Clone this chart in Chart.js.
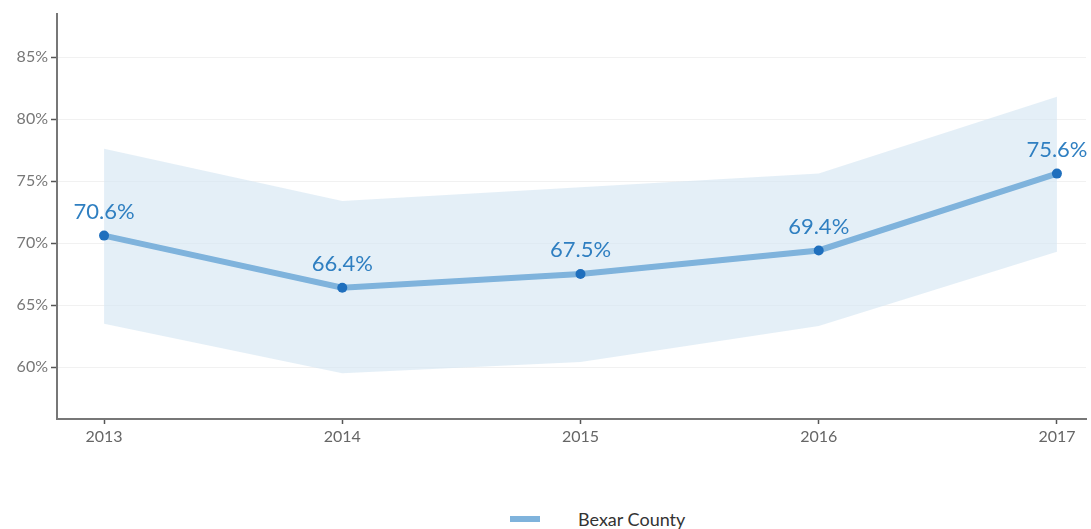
<!DOCTYPE html>
<html>
<head>
<meta charset="utf-8">
<script src="https://cdn.jsdelivr.net/npm/chart.js@4.4.1/dist/chart.umd.min.js"></script>
<style>
    html, body { margin: 0; padding: 0; background: #ffffff; }
    #wrap { position: relative; width: 1091px; height: 529px; }
    #grafico { position: absolute; left: 0; top: 0; }
    #legenda {
        position: absolute; left: 510px; top: 507px;
        font-family: Lato, 'Open Sans', sans-serif; font-size: 18px; color: #333;
        display: flex; align-items: center; height: 24px;
    }
    #legenda .amostra { width: 30px; height: 6px; background: #7fb3dc; margin-right: 38px; }
</style>
</head>
<body>
<div id="wrap">
    <canvas id="grafico" width="1091" height="450"></canvas>
    <div id="legenda"><span class="amostra"></span><span>Bexar County</span></div>
</div>
<script>
// --- Dados ---
const anos = [2013, 2014, 2015, 2016, 2017];
const valores = [70.6, 66.4, 67.5, 69.4, 75.6];
const limiteSuperior = [77.6, 73.4, 74.5, 75.6, 81.8];
const limiteInferior = [63.5, 59.5, 60.4, 63.3, 69.3];
const ticksY = [60, 65, 70, 75, 80, 85];

const pares = (arr) => anos.map((ano, i) => ({ x: ano, y: arr[i] }));

// rótulos de valor acima dos pontos
const rotulosPlugin = {
    id: 'rotulos',
    afterDatasetsDraw(chart) {
        const meta = chart.getDatasetMeta(2);
        const ctx = chart.ctx;
        ctx.save();
        ctx.font = '22px Lato, "Open Sans", sans-serif';
        ctx.fillStyle = '#2f7fc1';
        ctx.textAlign = 'center';
        ctx.textBaseline = 'middle';
        meta.data.forEach((pt, i) => {
            ctx.fillText(valores[i].toFixed(1) + '%', pt.x, pt.y - 24);
        });
        ctx.restore();
    }
};

const fonte = { family: 'Lato, "Open Sans", sans-serif', size: 16 };

const ctx = document.getElementById('grafico').getContext('2d');
new Chart(ctx, {
    type: 'line',
    data: {
        datasets: [
            {
                label: 'superior',
                data: pares(limiteSuperior),
                borderWidth: 0,
                pointRadius: 0,
                backgroundColor: 'rgba(214, 230, 243, 0.65)',
                fill: '+1',
                order: 2
            },
            {
                label: 'inferior',
                data: pares(limiteInferior),
                borderWidth: 0,
                pointRadius: 0,
                fill: false,
                order: 1
            },
            {
                label: 'Bexar County',
                data: pares(valores),
                borderColor: '#7fb3dc',
                borderWidth: 6,
                pointRadius: 5,
                pointBackgroundColor: '#1f6fbd',
                pointBorderWidth: 0,
                fill: false,
                clip: false,
                order: 0
            }
        ]
    },
    options: {
        responsive: false,
        animation: false,
        layout: { padding: { top: 14, right: 0, left: 0, bottom: 0 } },
        plugins: {
            legend: { display: false },
            tooltip: { enabled: false }
        },
        scales: {
            x: {
                type: 'linear',
                min: 2012.8025,
                max: 2017.122,
                afterBuildTicks: (scale) => { scale.ticks = anos.map(v => ({ value: v })); },
                afterFit: (scale) => { scale.height = 31; },
                grid: { drawOnChartArea: false, tickLength: 5, tickColor: '#555', tickWidth: 1.5 },
                border: { color: '#777', width: 2 },
                ticks: {
                    color: '#666',
                    font: fonte,
                    padding: 3,
                    callback: (v) => String(v)
                }
            },
            y: {
                min: 55.81,
                max: 88.47,
                afterBuildTicks: (scale) => { scale.ticks = ticksY.map(v => ({ value: v })); },
                afterFit: (scale) => { scale.width = 57; },
                grid: { color: '#f1f1f1', tickLength: 6, tickColor: '#555', tickWidth: 1.5 },
                border: { color: '#777', width: 2 },
                ticks: {
                    color: '#777',
                    font: fonte,
                    padding: 3,
                    callback: (v) => v + '%'
                }
            }
        }
    },
    plugins: [rotulosPlugin]
});
</script>
</body>
</html>
